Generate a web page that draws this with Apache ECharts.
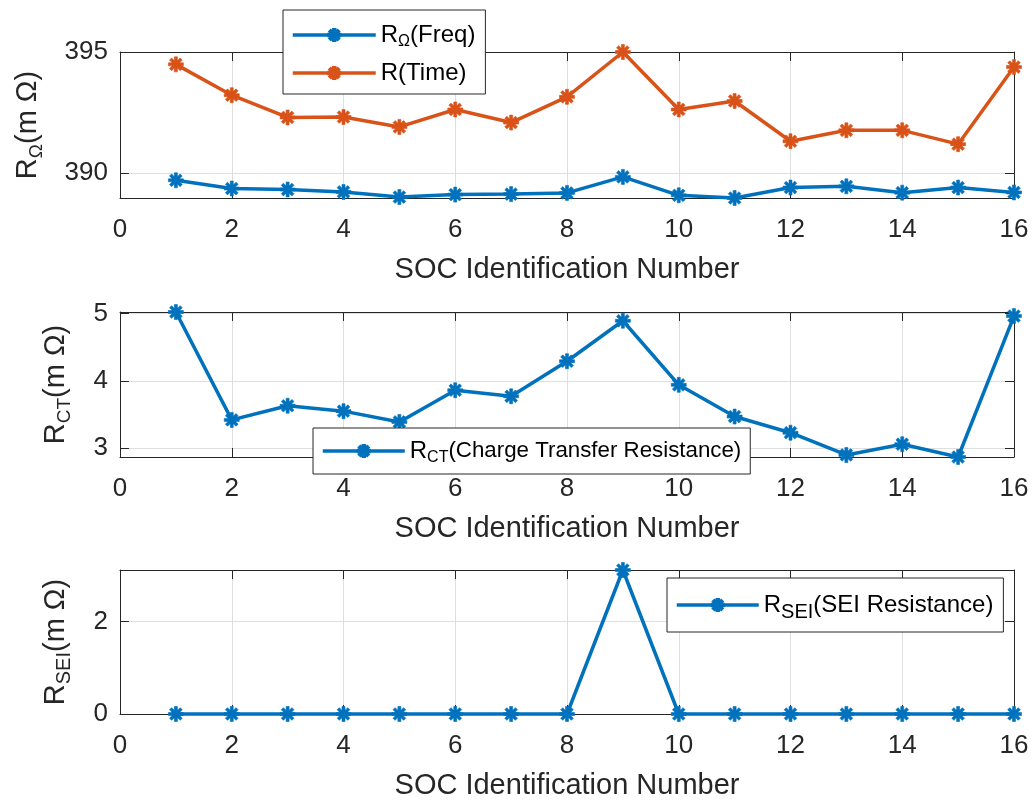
<!DOCTYPE html>
<html>
<head>
<meta charset="utf-8">
<script src="https://cdn.jsdelivr.net/npm/echarts@6/dist/echarts.min.js"></script>
<style>
html,body{margin:0;padding:0;background:#fff;}
#chart{width:1036px;height:803px;}
</style>
</head>
<body>
<div id="chart"></div>
<script>
// ---- data ----
const socIds = [1,2,3,4,5,6,7,8,9,10,11,12,13,14,15,16];
const rOhmFreq = [389.71,389.37,389.33,389.23,389.02,389.12,389.14,389.19,389.85,389.09,388.98,389.41,389.46,389.20,389.41,389.21];
const rOhmTime = [394.49,393.22,392.30,392.32,391.91,392.63,392.09,393.15,395.00,392.63,392.98,391.32,391.77,391.77,391.20,394.38];
const rCT = [5.02,3.42,3.63,3.55,3.39,3.86,3.77,4.29,4.89,3.94,3.47,3.23,2.90,3.06,2.87,4.96];
const rSEI = [0,0,0,0,0,0,0,0,3.12,0,0,0,0,0,0,0];
const yTicksTop = [390,395];
const yTicksMid = [3,4,5];
const yTicksBot = [0,2];
const xLabel = 'SOC Identification Number';
const legendNames = ['RΩ(Freq)','R(Time)','RCT(Charge Transfer Resistance)','RSEI(SEI Resistance)'];

const BLUE = '#0072BD', ORANGE = '#D95319', AX = '#262626', GRIDC = '#dfdfdf';
const FONT = 'Liberation Sans, Arial, Helvetica, sans-serif';
const STAR = 'path://M-10,-2L10,-2L10,2L-10,2Z M-2,-10L2,-10L2,10L-2,10Z M-5.66,-8.49L8.49,5.66L5.66,8.49L-8.49,-5.66Z M-5.66,8.49L-8.49,5.66L5.66,-8.49L8.49,-5.66Z';

function pairs(xs, ys){ return xs.map((x,i)=>[x, ys[i]]); }
const limTop = [Math.min(...rOhmFreq, ...rOhmTime), Math.max(...rOhmFreq, ...rOhmTime)];
const limMid = [Math.min(...rCT), Math.max(...rCT)];
const limBot = [Math.min(...rSEI), Math.max(...rSEI)];

const grids = [
  {left:120, right:22, top:52, height:146},
  {left:120, right:22, top:312, height:145},
  {left:120, right:22, top:570, height:144}
];

const xAxes = [], yAxes = [];
const yNames = [
  '{a|R}{s|Ω}{a|(m Ω)}',
  '{a|R}{s|CT}{a|(m Ω)}',
  '{a|R}{t|SEI}{a|(m Ω)}'
];
const yNameGaps = [74, 46, 46];
const lims = [limTop, limMid, limBot];
const yTicks = [yTicksTop, yTicksMid, yTicksBot];
const nameRich = {
  a:{fontSize:29, lineHeight:36, color:AX, fontFamily:FONT},
  s:{fontSize:19, lineHeight:19, padding:[17,0,0,0], color:AX, fontFamily:FONT},
  t:{fontSize:20, lineHeight:20, padding:[17,0,0,0], color:AX, fontFamily:FONT}
};
for (let i=0;i<3;i++){
  xAxes.push({
    gridIndex:i, type:'value', min:0, max:16, interval:2, position:'bottom',
    axisLine:{onZero:false, lineStyle:{color:AX, width:1}},
    axisTick:{inside:true, length:9, lineStyle:{color:AX}},
    axisLabel:{margin:19, fontSize:26, color:AX, fontFamily:FONT},
    splitLine:{show:true, lineStyle:{color:GRIDC, width:1}},
    name:xLabel, nameLocation:'middle', nameGap:57,
    nameTextStyle:{fontSize:29, color:AX, fontFamily:FONT}
  });
  xAxes.push({
    gridIndex:i, type:'value', min:0, max:16, interval:2, position:'top',
    axisLine:{onZero:false, lineStyle:{color:AX, width:1}},
    axisTick:{inside:true, length:9, lineStyle:{color:AX}},
    axisLabel:{show:false}, splitLine:{show:false}
  });
  yAxes.push({
    gridIndex:i, type:'value', min:lims[i][0], max:lims[i][1], position:'left',
    axisLine:{show:true, onZero:false, lineStyle:{color:AX, width:1}},
    axisTick:{show:true, inside:true, length:9, lineStyle:{color:AX}, customValues:yTicks[i]},
    axisLabel:{margin:12, fontSize:26, color:AX, fontFamily:FONT, customValues:yTicks[i]},
    splitLine:{show:true, lineStyle:{color:GRIDC, width:1}},
    name:yNames[i], nameLocation:'middle', nameRotate:90, nameGap:yNameGaps[i],
    nameTextStyle:{rich:nameRich}
  });
  yAxes.push({
    gridIndex:i, type:'value', min:lims[i][0], max:lims[i][1], position:'right',
    axisLine:{show:true, onZero:false, lineStyle:{color:AX, width:1}},
    axisTick:{show:true, inside:true, length:9, lineStyle:{color:AX}, customValues:yTicks[i]},
    axisLabel:{show:false, customValues:yTicks[i]}, splitLine:{show:false}
  });
}

function mkSeries(name, data, color, gi){
  return {
    name:name, type:'line', xAxisIndex:gi*2, yAxisIndex:gi*2, data:data,
    symbol:STAR, symbolSize:15, showSymbol:true,
    lineStyle:{color:color, width:3.5},
    itemStyle:{color:color, borderColor:color, borderWidth:0.6},
    emphasis:{disabled:true}, z:3, clip:false
  };
}

const legendRich = {
  a:{fontSize:24, lineHeight:30, color:'#000', fontFamily:FONT},
  s:{fontSize:16, lineHeight:16, padding:[14,0,0,0], color:'#000', fontFamily:FONT},
  t:{fontSize:20, lineHeight:20, padding:[14,0,0,0], color:'#000', fontFamily:FONT},
  b:{fontSize:22.3, lineHeight:30, color:'#000', fontFamily:FONT}
};
const legendFmt = {
  'RΩ(Freq)':'{a|R}{s|Ω}{a|(Freq)}',
  'R(Time)':'{a|R(Time)}',
  'RCT(Charge Transfer Resistance)':'{a|R}{s|CT}{b|(Charge Transfer Resistance)}',
  'RSEI(SEI Resistance)':'{a|R}{t|SEI}{a|(SEI Resistance)}'
};
function mkLegend(names, left, top, padding, itemWidth){
  return {
    data:names, orient:'vertical', left:left, top:top, padding:padding,
    itemWidth:itemWidth, itemHeight:15, itemGap:11, selectedMode:false,
    backgroundColor:'#fff', borderColor:AX, borderWidth:1, borderRadius:0,
    lineStyle:{width:3.5},
    formatter:(n)=>legendFmt[n],
    textStyle:{rich:legendRich}, z:10
  };
}

const option = {
  animation:false,
  backgroundColor:'#fff',
  grid:grids,
  xAxis:xAxes,
  yAxis:yAxes,
  legend:[
    mkLegend([legendNames[0], legendNames[1]], 283, 10, [10,10,9,8], 83),
    mkLegend([legendNames[2]], 313, 428, [8,9,8,8], 82),
    mkLegend([legendNames[3]], 667, 578, [10,10,10,8], 82)
  ],
  series:[
    mkSeries(legendNames[0], pairs(socIds, rOhmFreq), BLUE, 0),
    mkSeries(legendNames[1], pairs(socIds, rOhmTime), ORANGE, 0),
    mkSeries(legendNames[2], pairs(socIds, rCT), BLUE, 1),
    mkSeries(legendNames[3], pairs(socIds, rSEI), BLUE, 2)
  ]
};
const chart = echarts.init(document.getElementById('chart'), null, {renderer:'canvas'});
chart.setOption(option);
</script>
</body>
</html>
